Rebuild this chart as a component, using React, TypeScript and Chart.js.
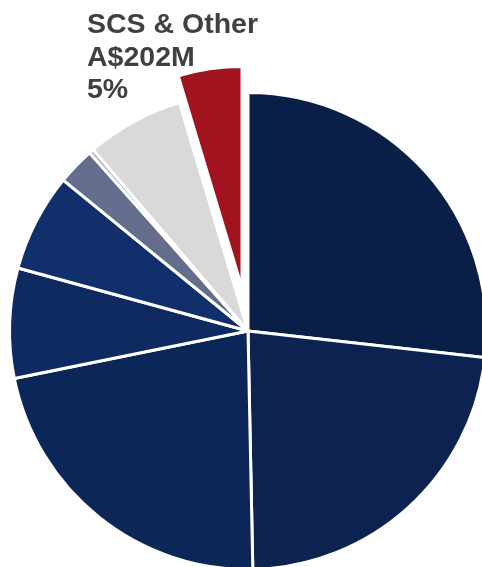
import React, { useEffect, useRef } from "react";
import { Chart, registerables } from "chart.js";

Chart.register(...registerables);

// Segments (A$M), clockwise from 12 o'clock
const categories = [
  "Segment 1",
  "Segment 2",
  "Segment 3",
  "Segment 4",
  "Segment 5",
  "Segment 6",
  "Segment 7",
  "Segment 8",
  "SCS & Other",
];
const values = [1164, 996, 962, 324, 289, 110, 14, 287, 202];
const colors = [
  "#0a1f48",
  "#0c2352",
  "#0d2658",
  "#0f2a60",
  "#11306b",
  "#646e8c",
  "#aab2c8",
  "#d9d9d9",
  "#a0131f",
];
const highlightIndex = 8;
const labelLines = ["SCS & Other", "A$202M", "5%"];

const W = 482;
const H = 567;

export default function App() {
  const baseRef = useRef<HTMLCanvasElement | null>(null);
  const hiRef = useRef<HTMLCanvasElement | null>(null);

  useEffect(() => {
    if (!baseRef.current || !hiRef.current) return;

    const base = new Chart(baseRef.current, {
      type: "pie",
      data: {
        labels: categories,
        datasets: [
          {
            data: values,
            backgroundColor: colors.map((c, i) => (i === highlightIndex ? "rgba(0,0,0,0)" : c)),
            borderColor: colors.map((c, i) => (i === highlightIndex ? "rgba(0,0,0,0)" : "#ffffff")),
            borderWidth: 3,
            clip: false,
          } as any,
        ],
      },
      options: {
        responsive: false,
        animation: false,
        radius: 238.5,
        layout: { padding: { left: 14, right: 0, top: 95, bottom: 0 } },
        plugins: { legend: { display: false }, tooltip: { enabled: false } },
        events: [],
      } as any,
    });

    const hi = new Chart(hiRef.current, {
      type: "pie",
      data: {
        labels: categories,
        datasets: [
          {
            data: values,
            backgroundColor: colors.map((c, i) => (i === highlightIndex ? c : "rgba(0,0,0,0)")),
            borderColor: colors.map((c, i) => (i === highlightIndex ? "#ffffff" : "rgba(0,0,0,0)")),
            borderWidth: colors.map((c, i) => (i === highlightIndex ? 3 : 0)),
            clip: false,
          } as any,
        ],
      },
      options: {
        responsive: false,
        animation: false,
        radius: 221.5,
        layout: { padding: { left: 2, right: 0, top: 9, bottom: 0 } },
        plugins: { legend: { display: false }, tooltip: { enabled: false } },
        events: [],
      } as any,
    });

    return () => {
      base.destroy();
      hi.destroy();
    };
  }, []);

  return (
    <div
      style={{
        position: "absolute",
        left: 0,
        top: 0,
        width: W,
        height: H,
        background: "#ffffff",
        overflow: "hidden",
      }}
    >
      <canvas ref={baseRef} width={W} height={H} style={{ position: "absolute", left: 0, top: 0 }} />
      <canvas ref={hiRef} width={W} height={H} style={{ position: "absolute", left: 0, top: 0 }} />
      <div
        style={{
          position: "absolute",
          left: 87,
          top: 7,
          fontFamily: "'Liberation Sans', Arial, sans-serif",
          fontWeight: "bold",
          fontSize: 28.5,
          lineHeight: "32.5px",
          color: "#404040",
          whiteSpace: "nowrap",
        }}
      >
        {labelLines.map((t) => (
          <div key={t}>{t}</div>
        ))}
      </div>
    </div>
  );
}
